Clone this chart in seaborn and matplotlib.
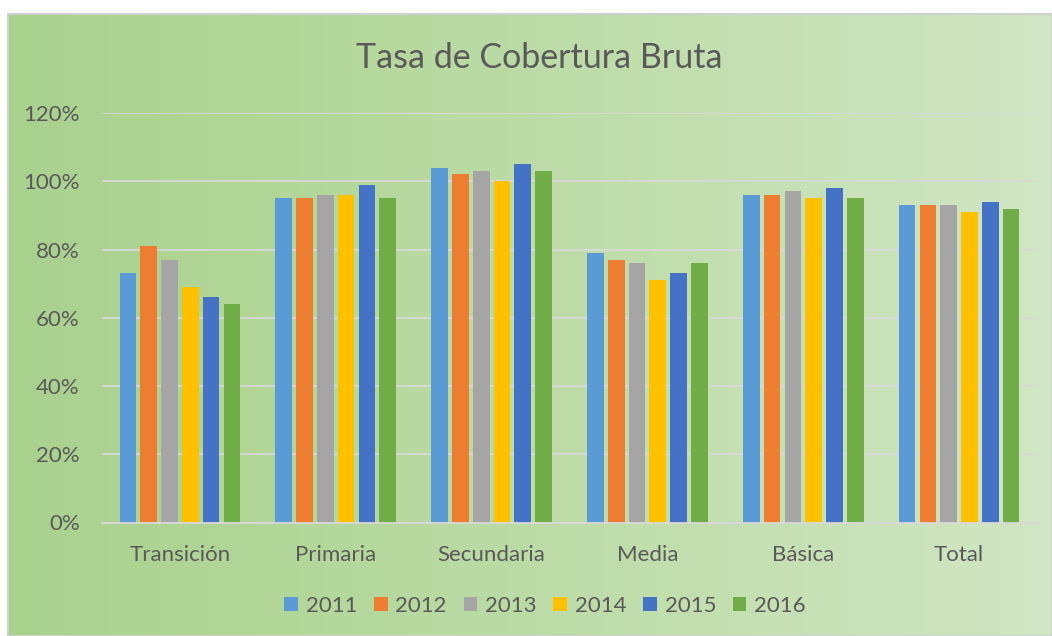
import numpy as np
import pandas as pd
import matplotlib
matplotlib.use("Agg")
import matplotlib.pyplot as plt
from matplotlib.ticker import FuncFormatter
from matplotlib.colors import LinearSegmentedColormap
import seaborn as sns

categories = ["Transición", "Primaria", "Secundaria", "Media", "Básica", "Total"]
years = ["2011", "2012", "2013", "2014", "2015", "2016"]
v2011 = [73, 95, 104, 79, 96, 93]
v2012 = [81, 95, 102, 77, 96, 93]
v2013 = [77, 96, 103, 76, 97, 93]
v2014 = [69, 96, 100, 71, 95, 91]
v2015 = [66, 99, 105, 73, 98, 94]
v2016 = [64, 95, 103, 76, 95, 92]
colors = ["#5B9BD5", "#ED7D31", "#A5A5A5", "#FFC000", "#4472C4", "#70AD47"]

series = [v2011, v2012, v2013, v2014, v2015, v2016]
rows = []
for y, vals in zip(years, series):
    for c, v in zip(categories, vals):
        rows.append({"cat": c, "year": y, "val": v / 100})
df = pd.DataFrame(rows)

sns.set_theme(style="white")
plt.rcParams["font.family"] = ["Lato", "DejaVu Sans"]
txt = "#595959"

W, H = 1052, 636
fig = plt.figure(figsize=(W / 100, H / 100), dpi=100)
fig.patch.set_facecolor("white")

# background chart area with gradient
bg = fig.add_axes([8 / W, 0, 1 - 8 / W, 1 - 14 / H])
cmap = LinearSegmentedColormap.from_list("g", ["#A9D18E", "#B5D89C", "#C3DFB0", "#D1E6C4"])
grad = np.linspace(0, 1, 256).reshape(1, -1)
bg.imshow(grad, aspect="auto", cmap=cmap, extent=[0, 1, 0, 1])
bg.set_xticks([]); bg.set_yticks([])
for s in bg.spines.values():
    s.set_color("#D0D0D0"); s.set_linewidth(1.5)
bg.set_zorder(0)

ax = fig.add_axes([102 / W, 1 - 522.5 / H, (1037 - 102) / W, (522.5 - 113) / H])
ax.set_facecolor("none")
ax.set_zorder(1)
sns.barplot(data=df, x="cat", y="val", hue="year", palette=colors,
            width=0.8, gap=0.2, ax=ax, saturation=1, edgecolor="none",
            legend=True)
ax.set_ylim(0, 1.2)
ax.set_yticks(np.arange(0, 1.21, 0.2))
ax.yaxis.set_major_formatter(FuncFormatter(lambda v, p: f"{v*100:.0f}%"))
ax.grid(axis="y", color="#D9D9D9", linewidth=1.3)
ax.set_axisbelow(True)
for s in ["top", "right", "left"]:
    ax.spines[s].set_visible(False)
ax.spines["bottom"].set_color("#D9D9D9")
ax.spines["bottom"].set_linewidth(1.3)
ax.set_xlabel(""); ax.set_ylabel("")
ax.tick_params(axis="both", length=0, colors=txt, labelsize=16)
ax.tick_params(axis="x", pad=16)
ax.tick_params(axis="y", pad=16)
ax.set_xlim(-0.5, 5.5)

handles, labels = ax.get_legend_handles_labels()
ax.legend_.remove()
fig.legend(handles, labels, loc="center", bbox_to_anchor=(545 / W, 1 - 606 / H),
           ncol=6, frameon=False, fontsize=16, handlelength=0.62, handleheight=0.62,
           handletextpad=0.35, columnspacing=0.75, labelcolor=txt)

fig.text(539 / W, 1 - 58 / H, "Tasa de Cobertura Bruta", ha="center", va="center",
         fontsize=24.5, color=txt)

fig.savefig("out.png", dpi=100)
